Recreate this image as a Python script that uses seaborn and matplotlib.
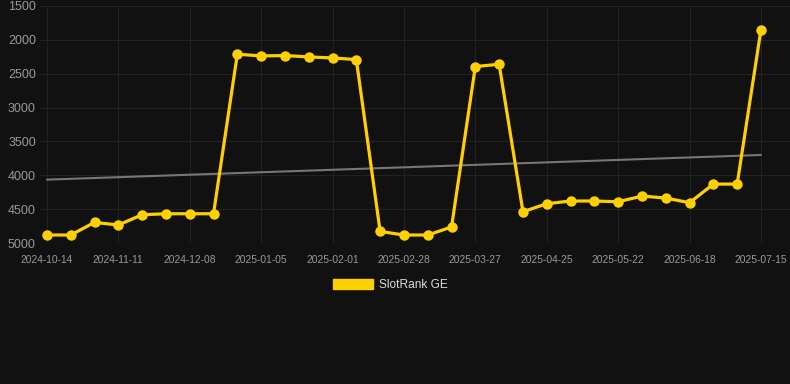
import numpy as np
import pandas as pd
import matplotlib
matplotlib.use('Agg')
import matplotlib.pyplot as plt
from matplotlib.patches import Patch
import seaborn as sns

# weekly-ish SlotRank positions (lower is better, axis inverted)
dates = ['2024-10-14', '2024-10-23', '2024-11-01', '2024-11-11', '2024-11-20',
         '2024-11-29', '2024-12-08', '2024-12-17', '2024-12-27', '2025-01-05',
         '2025-01-14', '2025-01-23', '2025-02-01', '2025-02-10', '2025-02-19',
         '2025-02-28', '2025-03-09', '2025-03-18', '2025-03-27', '2025-04-05',
         '2025-04-15', '2025-04-25', '2025-05-04', '2025-05-13', '2025-05-22',
         '2025-05-31', '2025-06-09', '2025-06-18', '2025-06-27', '2025-07-06',
         '2025-07-15']
rank = [4882, 4882, 4696, 4734, 4583, 4568, 4568, 4568, 2212, 2237,
        2232, 2252, 2267, 2291, 4829, 4882, 4882, 4764, 2395, 2360,
        4538, 4420, 4380, 4380, 4391, 4307, 4336, 4405, 4130, 4130,
        1849]
y_ticks = [1500, 2000, 2500, 3000, 3500, 4000, 4500, 5000]
series_name = 'SlotRank GE'

bg = '#111111'
gold = '#FFD000'

df = pd.DataFrame({'idx': np.arange(len(rank)), 'date': dates, 'rank': rank})

# linear trend over the series
coef = np.polyfit(df['idx'], df['rank'], 1)
df['trend'] = np.polyval(coef, df['idx'])

sns.set_theme(style='dark')
plt.rcParams['font.family'] = ['Liberation Sans', 'DejaVu Sans']

fig = plt.figure(figsize=(7.9, 3.84), dpi=100, facecolor=bg)
ax = fig.add_axes([40 / 790, 141 / 384, 750 / 790, 237 / 384])
ax.set_facecolor(bg)

sns.lineplot(data=df, x='idx', y='trend', ax=ax, color='#777777', linewidth=1.5)
sns.lineplot(data=df, x='idx', y='rank', ax=ax, color=gold, linewidth=2.3,
             marker='o', markersize=7.5, markeredgewidth=0, markeredgecolor=gold)

ax.set_ylim(5000, 1500)
ax.set_yticks(y_ticks)
ax.set_yticklabels([str(v) for v in y_ticks])
tick_pos = df['idx'][::3]
ax.set_xticks(tick_pos)
ax.set_xticklabels(df['date'][::3])
ax.set_xlim(-0.29, 31.22)

ax.grid(True, color='#222222', linewidth=0.8)
for s in ax.spines.values():
    s.set_visible(False)
ax.tick_params(axis='y', colors='#999999', labelsize=9, length=0, pad=3)
ax.tick_params(axis='x', colors='#999999', labelsize=7.4, length=4, width=0.8,
               pad=4.5)
for t in ax.get_xticklines():
    t.set_color('#222222')
ax.set_xlabel('')
ax.set_ylabel('')

handle = Patch(facecolor=gold, edgecolor=gold)
fig.legend([handle], [series_name], loc='center', bbox_to_anchor=(0.494, 0.257),
           frameon=False, fontsize=8.6, labelcolor='#dddddd', handlelength=3.3,
           handleheight=0.85, handletextpad=0.5)

fig.savefig('out.png', dpi=100, facecolor=bg)
